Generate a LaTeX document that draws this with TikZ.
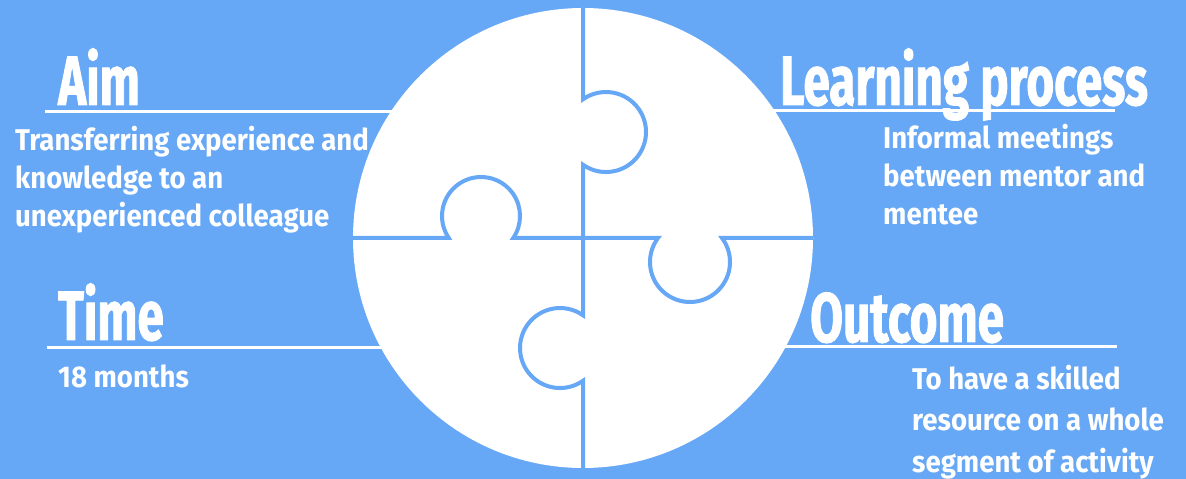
\documentclass[tikz,border=0pt]{standalone}
\usepackage{fontspec}
\setmainfont{Fira Sans}
\newfontfamily\headfont[FakeStretch=0.68,FakeBold=1.2]{Fira Sans}
\newfontfamily\bodyfont[FakeStretch=0.92]{Fira Sans}
\definecolor{skyblue}{HTML}{66A7F6}

\begin{document}
\begin{tikzpicture}[x=1pt, y=1pt,
  title/.style={text=white, font=\headfont\bfseries\fontsize{70}{70}\selectfont,
    inner sep=0pt, anchor=base west},
  body/.style={text=white, font=\bodyfont\bfseries\fontsize{30}{38}\selectfont,
    inner sep=0pt, anchor=base west, align=left},
  rule/.style={white, line width=3pt},
  divider/.style={skyblue, line width=4pt}]

\def\R{230}   % circle radius
\def\cx{583}  % circle centre
\def\cy{241}

% --- Background ---
\fill[skyblue] (0,0) rectangle (1186,479);
\useasboundingbox (0,0) rectangle (1186,479);

% --- Underlines (they run under the circle) ---
\draw[rule] (45,367) -- (\cx,367);
\draw[rule] (\cx,368) -- (1115,368);
\draw[rule] (47,131) -- (\cx,131);
\draw[rule] (\cx,132) -- (1117,132);

% --- Circle ---
\fill[white] (\cx,\cy) circle (\R);

% --- Puzzle cuts with knobs ---
\begin{scope}
  \clip (\cx,\cy) circle (\R);
  \draw[divider] (\cx,479) -- (\cx,379.7)
    arc[start angle=125.1, end angle=-125.1, radius=40] -- (\cx,163.7)
    arc[start angle=54.9, end angle=305.1, radius=40] -- (\cx,0);
  \draw[divider] (340,\cy) -- (448.8,\cy)
    arc[start angle=214.3, end angle=-34.3, radius=39] -- (658,\cy)
    arc[start angle=143.1, end angle=396.9, radius=40] -- (830,\cy);
\end{scope}

% --- Titles ---
\node[title] (aim) at (58,374) {Aim};
\node[title] (learning) at (780,374) {Learning process};
\node[title] (time) at (58,139) {Time};
\node[title] (outcome) at (810,137) {Outcome};

% --- Descriptions (placed at the baseline of their last line) ---
\node[body] (aimtext) at (15,252)
  {Transferring experience and\\knowledge to an\\unexperienced colleague};
\node[body] (learningtext) at (883,254)
  {Informal meetings\\between mentor and\\mentee};
\node[body] (timetext) at (58,91) {18 months};
\node[body, font=\bodyfont\bfseries\fontsize{30}{41}\selectfont] (outcometext) at (912,7)
  {To have a skilled\\resource on a whole\\segment of activity};

\end{tikzpicture}
\end{document}
